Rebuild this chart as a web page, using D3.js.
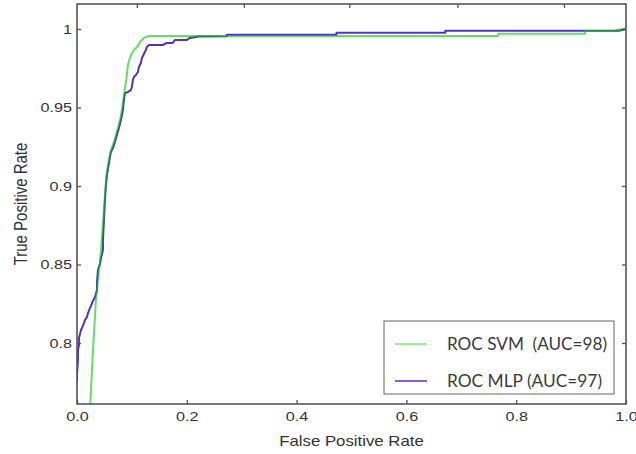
<!DOCTYPE html>
<html>
<head>
<meta charset="utf-8">
<script src="https://cdn.jsdelivr.net/npm/d3@7"></script>
<style>
  html, body { margin: 0; padding: 0; background: #fff; }
  svg { display: block; }
</style>
</head>
<body>
<svg id="chart" width="636" height="454"></svg>
<script>
// ---- data ----
const mlpFPR = [0,0,0.0018,0.0018,0.0036,0.0036,0.0073,0.0091,0.0127,0.0145,0.0182,0.0200,0.0236,0.0255,0.0291,0.0327,0.0364,0.0364,0.0382,0.0418,0.0436,0.0455,0.0473,0.0473,0.0491,0.0509,0.0527,0.0545,0.0582,0.0618,0.0655,0.0691,0.0727,0.0764,0.0800,0.0836,0.0855,0.0873,0.0927,0.0982,0.1000,0.1018,0.1036,0.1073,0.1109,0.1127,0.1164,0.1182,0.1218,0.1255,0.1273,0.1309,0.1564,0.1636,0.1745,0.1782,0.2000,0.2055,0.2218,0.2727,0.2727,0.4727,0.4727,0.6709,0.6709,0.9873,1.0];
const mlpTPR = [0.7752,0.7796,0.7892,0.7955,0.7987,0.8032,0.8083,0.8096,0.8127,0.8146,0.8166,0.8191,0.8223,0.8236,0.8268,0.8293,0.8338,0.8389,0.8465,0.8503,0.8541,0.8567,0.8592,0.8656,0.8783,0.8911,0.9006,0.9070,0.9146,0.9217,0.9242,0.9280,0.9325,0.9369,0.9420,0.9484,0.9548,0.9592,0.9599,0.9611,0.9631,0.9675,0.9694,0.9707,0.9726,0.9758,0.9783,0.9815,0.9841,0.9866,0.9885,0.9898,0.9898,0.9911,0.9911,0.9930,0.9930,0.9943,0.9952,0.9954,0.9964,0.9964,0.9976,0.9976,0.9989,0.9989,1.0];

const svmFPR = [0.0236,0.0264,0.0291,0.0318,0.0345,0.0373,0.0400,0.0418,0.0436,0.0464,0.0491,0.0509,0.0527,0.0545,0.0573,0.0609,0.0645,0.0682,0.0718,0.0755,0.0791,0.0818,0.0845,0.0864,0.0882,0.0909,0.0927,0.0964,0.1000,0.1055,0.1109,0.1145,0.1182,0.1218,0.1273,0.1327,0.7673,0.7673,0.9255,0.9255,0.9782,0.9873,1.0];
const svmTPR = [0.757,0.7764,0.7955,0.8115,0.8274,0.8369,0.8465,0.8510,0.8592,0.8720,0.8847,0.8943,0.9025,0.9089,0.9153,0.9217,0.9255,0.9293,0.9338,0.9382,0.9433,0.9484,0.9548,0.9599,0.9643,0.9707,0.9771,0.9815,0.9847,0.9873,0.9892,0.9917,0.9930,0.9943,0.9952,0.9955,0.9955,0.9970,0.9970,0.9987,0.9987,0.9997,1.0];

const xTickValues = [0, 0.2, 0.4, 0.6, 0.8, 1.0];
const xTickLabels = ["0.0", "0.2", "0.4", "0.6", "0.8", "1.0"];
const yTickValues = [0.8, 0.85, 0.9, 0.95, 1.0];
const yTickLabels = ["0.8", "0.85", "0.9", "0.95", "1"];
const topTickValues = [0.109, 0.304, 0.496, 0.693, 0.887];

const seriesNames = ["ROC SVM  (AUC=98)", "ROC MLP (AUC=97)"];
const xDomain = [0, 1];
const yDomain = [0.76115, 1.01592];
const xTitle = "False Positive Rate";
const yTitle = "True Positive Rate";

// ---- layout ----
const svg = d3.select("#chart");
const L = 77, R = 626, T = 4, B = 404;
const x = d3.scaleLinear().domain(xDomain).range([L, R]);
const y = d3.scaleLinear().domain(yDomain).range([B, T]);
const stretch = 1.2;
const tickFont = "'Liberation Sans', Arial, sans-serif";

svg.append("defs").append("clipPath").attr("id", "plotclip")
  .append("rect").attr("x", L).attr("y", T).attr("width", R - L).attr("height", B - T);

// curves
const line = d3.line().x(d => x(d[0])).y(d => y(d[1]));
const mlp = mlpFPR.map((v, i) => [v, mlpTPR[i]]);
const svm = svmFPR.map((v, i) => [v, svmTPR[i]]);
const g = svg.append("g").attr("clip-path", "url(#plotclip)");
g.append("path").datum(mlp).attr("d", line)
  .attr("fill", "none").attr("stroke", "#4c36c0").attr("stroke-width", 2)
  .attr("stroke-linejoin", "round");
g.append("path").datum(svm).attr("d", line)
  .attr("fill", "none").attr("stroke", "#00c600").attr("stroke-opacity", 0.6).attr("stroke-width", 2)
  .attr("stroke-linejoin", "round");

// axes
const axColor = "#555";
function styleAxis(sel) {
  sel.select(".domain").remove();
  sel.selectAll(".tick line").attr("stroke", axColor).attr("stroke-width", 1.3);
}
const leftAx = svg.append("g").attr("transform", `translate(${L},0)`)
  .call(d3.axisLeft(y).tickValues(yTickValues).tickFormat((d, i) => yTickLabels[i])
    .tickSizeInner(-4).tickSizeOuter(0).tickPadding(5));
styleAxis(leftAx);
leftAx.selectAll("text").attr("font-family", tickFont).attr("font-size", 13.5)
  .attr("fill", "#333").attr("x", -5 / stretch).attr("transform", `scale(${stretch},1)`);

const rightAx = svg.append("g").attr("transform", `translate(${R},0)`)
  .call(d3.axisRight(y).tickValues(yTickValues).tickFormat("").tickSizeInner(-4).tickSizeOuter(0));
styleAxis(rightAx);

const bottomAx = svg.append("g").attr("transform", `translate(0,${B})`)
  .call(d3.axisBottom(x).tickValues(xTickValues).tickFormat((d, i) => xTickLabels[i])
    .tickSizeInner(-4).tickSizeOuter(0).tickPadding(7));
styleAxis(bottomAx);
bottomAx.selectAll("text").attr("font-family", tickFont).attr("font-size", 13.5)
  .attr("fill", "#333").attr("transform", `scale(${stretch},1)`);

const topAx = svg.append("g").attr("transform", `translate(0,${T})`)
  .call(d3.axisTop(x).tickValues(topTickValues).tickFormat("").tickSizeInner(-4).tickSizeOuter(0));
styleAxis(topAx);

// frame
svg.append("rect").attr("x", L).attr("y", T).attr("width", R - L).attr("height", B - T)
  .attr("fill", "none").attr("stroke", axColor).attr("stroke-width", 1.6);

// axis titles
svg.append("text").attr("transform", `translate(${(L + R) / 2},446) scale(${stretch},1)`)
  .attr("text-anchor", "middle").attr("font-family", tickFont).attr("font-size", 14)
  .attr("fill", "#333").text(xTitle);
svg.append("text").attr("transform", `translate(27,${(T + B) / 2}) rotate(-90) scale(1,${stretch})`)
  .attr("text-anchor", "middle").attr("font-family", tickFont).attr("font-size", 15)
  .attr("fill", "#333").text(yTitle);

// legend
const lg = svg.append("g");
lg.append("rect").attr("x", 384).attr("y", 321).attr("width", 230).attr("height", 73)
  .attr("fill", "#fff").attr("stroke", "#666").attr("stroke-width", 1);
const legColors = ["#77ee77", "#5a3fd8"];
const legY = [344, 381];
const legLen = [160, 155];
seriesNames.forEach((name, i) => {
  lg.append("line").attr("x1", 395).attr("x2", 427).attr("y1", legY[i]).attr("y2", legY[i])
    .attr("stroke", legColors[i]).attr("stroke-width", 1.6);
  lg.append("text").attr("x", 447).attr("y", legY[i] + 5.5)
    .attr("font-family", "Lato, 'Open Sans', sans-serif").attr("font-size", 17)
    .attr("fill", "#3a3a3a").attr("textLength", legLen[i]).attr("lengthAdjust", "spacingAndGlyphs")
    .style("white-space", "pre").text(name);
});
</script>
</body>
</html>
